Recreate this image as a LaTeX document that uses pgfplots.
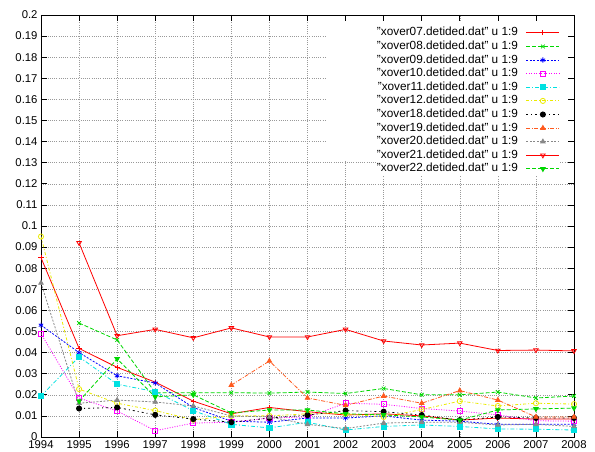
\documentclass[border=0pt]{standalone}
\usepackage{pgfplots}
\pgfplotsset{compat=1.18}
\usepackage{fontspec}
\setmainfont{Liberation Sans}
\definecolor{gpred}{RGB}{255,0,0}
\definecolor{gpgreen}{RGB}{0,215,0}
\definecolor{gpblue}{RGB}{0,0,255}
\definecolor{gpmag}{RGB}{255,0,255}
\definecolor{gpcyan}{RGB}{0,225,225}
\definecolor{gpyellow}{RGB}{235,235,0}
\definecolor{gporange}{RGB}{255,90,30}
\definecolor{gpgray}{RGB}{136,136,136}
\pgfplotsset{gpleg/.style={legend image code/.code={\draw[mark repeat=2,mark phase=2] plot coordinates {(0pt,0pt) (16.5pt,0pt) (33pt,0pt)};}}}
\begin{document}
\begin{tikzpicture}
\begin{axis}[
  scale only axis, width=533pt, height=422pt,
  xmin=1994, xmax=2008, ymin=0, ymax=0.2,
  xtick={1994,1995,1996,1997,1998,1999,2000,2001,2002,2003,2004,2005,2006,2007,2008},
  ytick={0,0.01,0.02,0.03,0.04,0.05,0.06,0.07,0.08,0.09,0.1,0.11,0.12,0.13,0.14,0.15,0.16,0.17,0.18,0.19,0.2},
  xticklabel style={/pgf/number format/set thousands separator={}},
  yticklabel style={/pgf/number format/fixed,/pgf/number format/precision=2},
  /pgf/number format/assume math mode=true,
  ticklabel style={font=\fontsize{11.3}{13}\selectfont, black},
  tick align=inside, major tick length=6pt,
  tick style={black, line width=0.6pt},
  axis line style={black, line width=0.8pt},
  grid=major,
  grid style={gray!80, line width=0.5pt, dash pattern=on 1pt off 1.2pt},
  every axis plot/.append style={line width=0.8pt, mark size=2.6pt},
  legend plot pos=right,
  legend cell align=right,
  legend style={at={(rel axis cs:1,1)}, anchor=north east, xshift=-14pt, yshift=-11pt,
    draw=none, fill=white, inner sep=0pt, row sep=0.2pt, column sep=7pt,
    font=\fontsize{11.8}{12}\selectfont,
    nodes={inner sep=1pt, text height=8.8pt, text depth=2.6pt}},
]
\fill[white] (axis cs:2001.51,0.1308) rectangle (axis cs:2007.84,0.197);

\addplot[gpleg, gpred, solid, mark=+] coordinates {
(1994,0.085) (1995,0.042) (1996,0.033) (1997,0.026) (1998,0.017) (1999,0.011) (2000,0.014) (2001,0.012) (2002,0.0104) (2003,0.011) (2004,0.010) (2005,0.008) (2006,0.009) (2007,0.0085) (2008,0.0085)};
\addlegendentry{"xover07.detided.dat" u 1:9}

\addplot[gpleg, gpgreen, dash pattern=on 4pt off 2pt, mark=x, mark options={solid}] coordinates {
(1995,0.054) (1996,0.046) (1997,0.021) (1998,0.021) (1999,0.021) (2000,0.0208) (2001,0.0213) (2002,0.0206) (2003,0.023) (2004,0.020) (2005,0.020) (2006,0.0213) (2007,0.0185) (2008,0.0194)};
\addlegendentry{"xover08.detided.dat" u 1:9}

\addplot[gpleg, gpblue, dash pattern=on 2pt off 1.5pt, mark=asterisk, mark options={solid}] coordinates {
(1994,0.053) (1995,0.040) (1996,0.029) (1997,0.0256) (1998,0.014) (1999,0.0075) (2000,0.007) (2001,0.009) (2002,0.009) (2003,0.010) (2004,0.008) (2005,0.0075) (2006,0.006) (2007,0.006) (2008,0.006)};
\addlegendentry{"xover09.detided.dat" u 1:9}

\addplot[gpleg, gpmag, dash pattern=on 1pt off 1.5pt, mark=square, mark options={solid}] coordinates {
(1994,0.049) (1995,0.0185) (1996,0.0123) (1997,0.003) (1998,0.0066) (1999,0.007) (2000,0.009) (2001,0.0095) (2002,0.016) (2003,0.0155) (2004,0.0135) (2005,0.0123) (2006,0.0105) (2007,0.0077) (2008,0.0075)};
\addlegendentry{"xover10.detided.dat" u 1:9}

\addplot[gpleg, gpcyan, dash pattern=on 4pt off 2pt on 1pt off 2pt, mark=square*, mark options={solid}] coordinates {
(1994,0.0194) (1995,0.038) (1996,0.025) (1997,0.0215) (1998,0.0125) (1999,0.006) (2000,0.0043) (2001,0.007) (2002,0.0033) (2003,0.005) (2004,0.0057) (2005,0.005) (2006,0.0038) (2007,0.0037) (2008,0.0033)};
\addlegendentry{"xover11.detided.dat" u 1:9}

\addplot[gpleg, gpyellow, dash pattern=on 3pt off 2pt on 1pt off 2pt, mark=o, mark options={solid}] coordinates {
(1994,0.095) (1995,0.0227) (1996,0.016) (1997,0.0125) (1998,0.0082) (1999,0.010) (2000,0.010) (2001,0.011) (2002,0.011) (2003,0.0095) (2004,0.013) (2005,0.017) (2006,0.0147) (2007,0.016) (2008,0.0156)};
\addlegendentry{"xover12.detided.dat" u 1:9}

\addplot[gpleg, black, dash pattern=on 2pt off 3pt on 1pt off 3pt, mark=*, mark options={solid}] coordinates {
(1995,0.0135) (1996,0.014) (1997,0.0105) (1998,0.0085) (1999,0.007) (2000,0.009) (2001,0.0104) (2002,0.0125) (2003,0.012) (2004,0.0104) (2005,0.008) (2006,0.0095) (2007,0.009) (2008,0.009)};
\addlegendentry{"xover18.detided.dat" u 1:9}

\addplot[gpleg, gporange, dash pattern=on 4pt off 1.5pt on 1pt off 1.5pt, mark=triangle*, mark options={solid}] coordinates {
(1999,0.0246) (2000,0.036) (2001,0.0185) (2002,0.015) (2003,0.0194) (2004,0.016) (2005,0.022) (2006,0.0175) (2007,0.0095) (2008,0.0095)};
\addlegendentry{"xover19.detided.dat" u 1:9}

\addplot[gpleg, gpgray, dash pattern=on 2pt off 1.5pt, mark=triangle*, mark options={solid}] coordinates {
(1994,0.073) (1995,0.016) (1996,0.0175) (1997,0.0166) (1998,0.0147) (1999,0.010) (2000,0.0095) (2001,0.006) (2002,0.004) (2003,0.0066) (2004,0.007) (2005,0.007) (2006,0.0057) (2007,0.006) (2008,0.005)};
\addlegendentry{"xover20.detided.dat" u 1:9}

\addplot[gpleg, gpred, solid, mark=triangle, mark options={solid, rotate=180}] coordinates {
(1995,0.092) (1996,0.048) (1997,0.051) (1998,0.047) (1999,0.0517) (2000,0.0474) (2001,0.0474) (2002,0.051) (2003,0.0455) (2004,0.0436) (2005,0.0445) (2006,0.041) (2007,0.0412) (2008,0.0408)};
\addlegendentry{"xover21.detided.dat" u 1:9}

\addplot[gpleg, gpgreen, dash pattern=on 4pt off 2pt, mark=triangle*, mark options={solid, rotate=180}] coordinates {
(1995,0.017) (1996,0.037) (1997,0.019) (1998,0.020) (1999,0.0114) (2000,0.0128) (2001,0.0128) (2002,0.011) (2003,0.0105) (2004,0.0095) (2005,0.008) (2006,0.0128) (2007,0.0133) (2008,0.0137)};
\addlegendentry{"xover22.detided.dat" u 1:9}
\end{axis}
\pgfresetboundingbox
\path[use as bounding box] ([xshift=-41pt,yshift=-15pt]current axis.south west) rectangle ([xshift=21pt,yshift=15pt]current axis.north east);
\end{tikzpicture}
\end{document}
